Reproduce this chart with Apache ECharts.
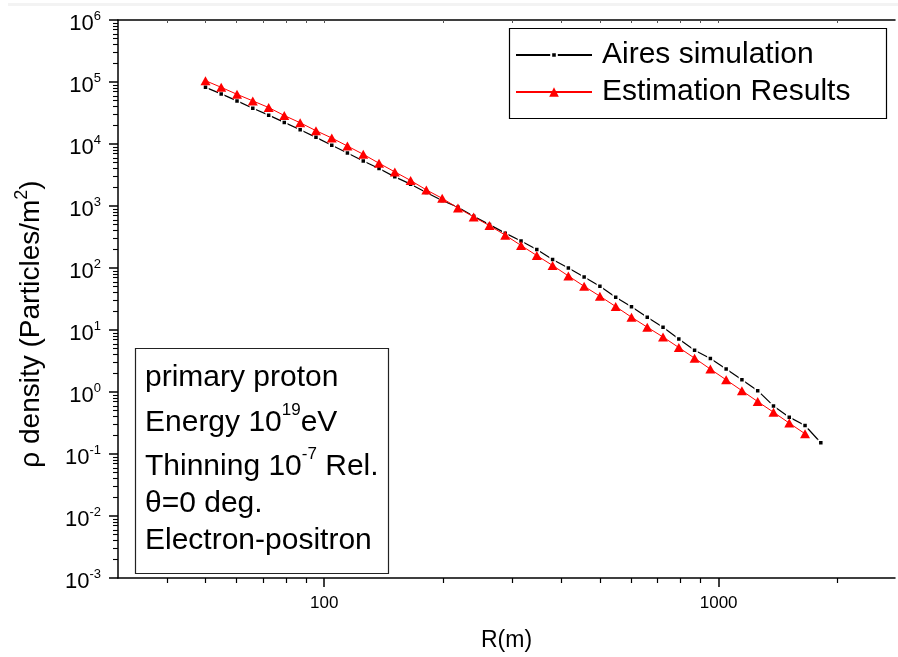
<!DOCTYPE html>
<html>
<head>
<meta charset="utf-8">
<script src="https://cdn.jsdelivr.net/npm/echarts@6/dist/echarts.min.js"></script>
<style>html,body{margin:0;padding:0;background:#fff}#c{width:898px;height:657px}</style>
</head>
<body>
<div id="c"></div>
<script>
// ---- data ----
const radius = [50, 54.8, 60.1, 65.9, 72.3, 79.2, 86.9, 95.3, 104.5, 114.5,
  125.6, 137.7, 151.0, 165.6, 181.5, 199.1, 218.3, 239.3, 262.4, 287.7,
  315.5, 345.9, 379.3, 415.9, 456.0, 500.0, 548.3, 601.2, 659.2, 722.8,
  792.6, 869.0, 952.9, 1044.8, 1145.6, 1256.2, 1377.4, 1510.3, 1656.0, 1815.8];
const airesDensity = [82000, 64300, 49600, 37800, 29200, 22300, 17000, 12800, 9520, 7160,
  5330, 4030, 2950, 2250, 1650, 1225, 953, 684, 501, 365,
  272, 199, 137, 100, 71.7, 50.7, 33.8, 23.7, 16.0, 11.1,
  7.16, 4.71, 3.47, 2.34, 1.57, 1.05, 0.596, 0.393, 0.288, 0.152];
const estimationDensity = [105000, 82000, 63300, 49600, 38700, 28800, 22000, 16400, 12500, 9270,
  6820, 4890, 3550, 2580, 1820, 1330, 929, 666, 483, 339,
  231, 159, 110, 74.5, 50.7, 35.1, 23.9, 16.1, 11.1, 7.71,
  5.21, 3.51, 2.34, 1.57, 1.05, 0.70, 0.472, 0.315, 0.212];
const seriesNames = ['Aires simulation', 'Estimation Results'];
const xMajorTicks = [100, 1000];
const xMinorTicks = [40, 50, 60, 70, 80, 90, 200, 300, 400, 500, 600, 700, 800, 900, 2000];
const yDecades = [-3, -2, -1, 0, 1, 2, 3, 4, 5, 6];
const yMinorMultipliers = [2, 3, 4, 5, 6, 7, 8, 9];
const annotationLines = [
  '{b|primary proton}',
  '{b|Energy 10}{s|19}{b|eV}',
  '{b|Thinning 10}{s|-7}{b| Rel.}',
  '{b|\u03b8=0 deg.}',
  '{b|Electron-positron}'
];

// ---- helpers ----
const FONT = 'Liberation Sans';
const lg = Math.log10;
const X_MIN = 30, X_MAX = 2800, Y_MIN = 1e-3, Y_MAX = 1e6;
const yMajorLog = yDecades;
const yMinorLog = [];
yDecades.slice(0, -1).forEach(d => yMinorMultipliers.forEach(m => yMinorLog.push(lg(m) + d)));

const tickAxisBase = (pos, min, max) => ({
  type: 'value', position: pos, min: min, max: max,
  axisLine: {show: false, onZero: false},
  axisLabel: {show: false}, splitLine: {show: false}
});

const chart = echarts.init(document.getElementById('c'), null, {renderer: 'canvas'});
const annRich = {
  b: {fontSize: 30, fontFamily: FONT, lineHeight: 42, fill: '#000'},
  s: {fontSize: 17, fontFamily: FONT, lineHeight: 17, verticalAlign: 'top', fill: '#000'}
};
const annY = [378, 423, 467, 504, 541];

const legendCommon = {
  orient: 'horizontal', left: 515, padding: 0, itemWidth: 76, selectedMode: false,
  textStyle: {fontSize: 30, fontFamily: FONT, color: '#000', lineHeight: 30, padding: [0, 0, 0, 5]}
};

const option = {
  animation: false,
  backgroundColor: '#fff',
  grid: {left: 118, right: 0, top: 20, bottom: 76, containLabel: false},
  legend: [
    Object.assign({}, legendCommon, {data: [seriesNames[0]], top: 40, itemHeight: 7}),
    Object.assign({}, legendCommon, {data: [seriesNames[1]], top: 77, itemHeight: 12})
  ],
  xAxis: [
    {
      type: 'log', min: X_MIN, max: X_MAX, position: 'bottom',
      axisLine: {show: true, onZero: false, lineStyle: {color: '#000', width: 1.5}},
      axisTick: {show: false}, splitLine: {show: false}, minorTick: {show: false},
      axisLabel: {
        margin: 17, fontSize: 17, fontFamily: FONT, color: '#000',
        formatter: v => xMajorTicks.some(t => Math.abs(t - v) < 1e-6 * t) ? String(Math.round(v)) : ''
      },
      name: 'R(m)', nameLocation: 'middle', nameGap: 51,
      nameTextStyle: {fontSize: 23, fontFamily: FONT, color: '#000'}
    },
    Object.assign(tickAxisBase('bottom', lg(X_MIN), lg(X_MAX)), {
      axisTick: {show: true, length: 9, customValues: xMajorTicks.map(lg), lineStyle: {color: '#000', width: 1.5}}
    }),
    Object.assign(tickAxisBase('bottom', lg(X_MIN), lg(X_MAX)), {
      axisTick: {show: true, length: 5, customValues: xMinorTicks.map(lg), lineStyle: {color: '#000', width: 1.2}}
    }),
    Object.assign(tickAxisBase('top', lg(X_MIN), lg(X_MAX)), {
      axisLine: {show: true, onZero: false, lineStyle: {color: '#000', width: 1.5}},
      axisTick: {show: true, inside: true, length: 3, customValues: xMinorTicks.concat(xMajorTicks).map(lg), lineStyle: {color: '#555', width: 1}}
    })
  ],
  yAxis: [
    {
      type: 'log', min: Y_MIN, max: Y_MAX, position: 'left', splitNumber: 9,
      axisLine: {show: true, onZero: false, lineStyle: {color: '#000', width: 1.5}},
      axisTick: {show: false}, splitLine: {show: false}, minorTick: {show: false},
      axisLabel: {
        margin: 17, color: '#000', padding: [7, 0, 0, 0],
        formatter: v => '{b|10}{s|' + Math.round(lg(v)) + '}',
        rich: {
          b: {fontSize: 22, fontFamily: FONT, color: '#000', lineHeight: 28},
          s: {fontSize: 13, fontFamily: FONT, color: '#000', lineHeight: 13, verticalAlign: 'top'}
        }
      },
      name: '{a|\u03c1 density (Particles/m}{s|2}{a|)}',
      nameLocation: 'middle', nameGap: 69, nameRotate: 90,
      nameTextStyle: {
        padding: [0, 50, 0, 0],
        rich: {
          a: {fontSize: 28, fontFamily: FONT, color: '#000', lineHeight: 36},
          s: {fontSize: 18, fontFamily: FONT, color: '#000', lineHeight: 18, verticalAlign: 'top'}
        }
      }
    },
    Object.assign(tickAxisBase('left', lg(Y_MIN), lg(Y_MAX)), {
      axisTick: {show: true, length: 9, customValues: yMajorLog, lineStyle: {color: '#000', width: 1.5}}
    }),
    Object.assign(tickAxisBase('left', lg(Y_MIN), lg(Y_MAX)), {
      axisTick: {show: true, length: 5, customValues: yMinorLog, lineStyle: {color: '#000', width: 1.1}}
    })
  ],
  series: [
    {
      name: seriesNames[0], type: 'line', xAxisIndex: 0, yAxisIndex: 0,
      data: radius.map((r, i) => [r, airesDensity[i]]),
      symbol: 'rect', symbolSize: 5, showSymbol: true,
      lineStyle: {color: '#000', width: 1.2},
      itemStyle: {color: '#000', borderColor: '#fff', borderWidth: 1.5},
      z: 2
    },
    {
      name: seriesNames[1], type: 'line', xAxisIndex: 0, yAxisIndex: 0,
      data: estimationDensity.map((d, i) => [radius[i], d]),
      symbol: 'triangle', symbolSize: [10, 9], showSymbol: true,
      lineStyle: {color: '#ff0000', width: 1},
      itemStyle: {color: '#ff0000'},
      z: 3
    }
  ],
  graphic: [
    {type: 'rect', shape: {x: 8, y: 3, width: 890, height: 3}, style: {fill: '#f3f3f3'}, silent: true},
    {type: 'rect', shape: {x: 509.5, y: 28.5, width: 377, height: 90}, style: {fill: 'none', stroke: '#000', lineWidth: 1.2}, z: 100},
    {type: 'rect', shape: {x: 135.5, y: 348.5, width: 253, height: 225}, style: {fill: 'none', stroke: '#222', lineWidth: 1.2}, z: 100}
  ].concat(annotationLines.map((t, i) => ({
    type: 'text', x: 145, y: annY[i], z: 100,
    style: {text: t, rich: annRich, align: 'left', verticalAlign: 'middle', fill: '#000'}
  })))
};
chart.setOption(option);
</script>
</body>
</html>
